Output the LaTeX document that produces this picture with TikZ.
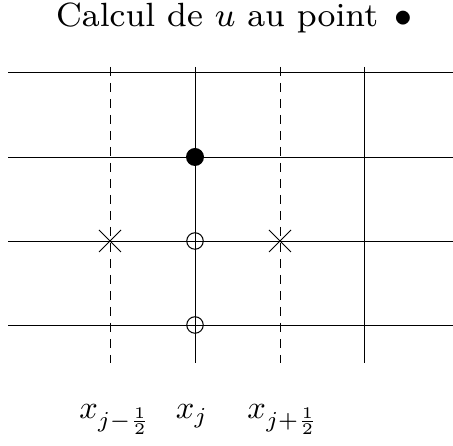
\documentclass[tikz,border=0pt]{standalone}
\usepackage{graphicx}
\usetikzlibrary{shapes.misc}
\newcommand{\bigtxt}[1]{\scalebox{3.25}{#1}}
\newcommand{\titletxt}[1]{\scalebox{4.2}{\fontsize{8}{9.5}\selectfont #1}}
\begin{document}
\begin{tikzpicture}[x=1pt,y=1pt,
  gridline/.style={line width=0.9pt,black},
  halfline/.style={line width=0.9pt,black,dash pattern=on 9pt off 7pt},
  fullpt/.style={circle,fill=black,inner sep=0pt,minimum size=18pt},
  openpt/.style={circle,draw=black,line width=1pt,inner sep=0pt,minimum size=16.5pt},
  crosspt/.style={cross out,draw=black,line width=1pt,inner sep=0pt,minimum size=21pt},
  bigtext/.style={inner sep=0pt}]
\useasboundingbox (0,0) rectangle (453,446);
% horizontal lines
\foreach \y/\n in {374/a,289/b,205/c,121/d}{
  \coordinate (L\n) at (8,\y);
  \coordinate (R\n) at (453,\y);
  \draw[gridline] (L\n) -- (R\n);
}
% vertical lines
\foreach \x/\n/\s in {110/1/halfline,195/2/gridline,280/3/halfline,364/4/gridline}{
  \coordinate (T\n) at (\x,379);
  \coordinate (B\n) at (\x,83);
  \draw[\s] (T\n) -- (B\n);
}
\node[fullpt] (p) at (195,289) {};
\node[openpt] (o1) at (195,205) {};
\node[openpt] (o2) at (195,121) {};
\node[crosspt] (c1) at (110,205) {};
\node[crosspt] (c2) at (280,205) {};
\node[bigtext,anchor=base west] (title) at (56,419) {\titletxt{Calcul de $u$ au point\hspace{0.12em} $\bullet$}};
\node[bigtext,anchor=base] (lm) at (115,27) {\bigtxt{$x_{j-\frac12}$}};
\node[bigtext,anchor=base] (lj) at (192,27) {\bigtxt{$x_j$}};
\node[bigtext,anchor=base] (lp) at (283,27) {\bigtxt{$x_{j+\frac12}$}};
\end{tikzpicture}
\end{document}
